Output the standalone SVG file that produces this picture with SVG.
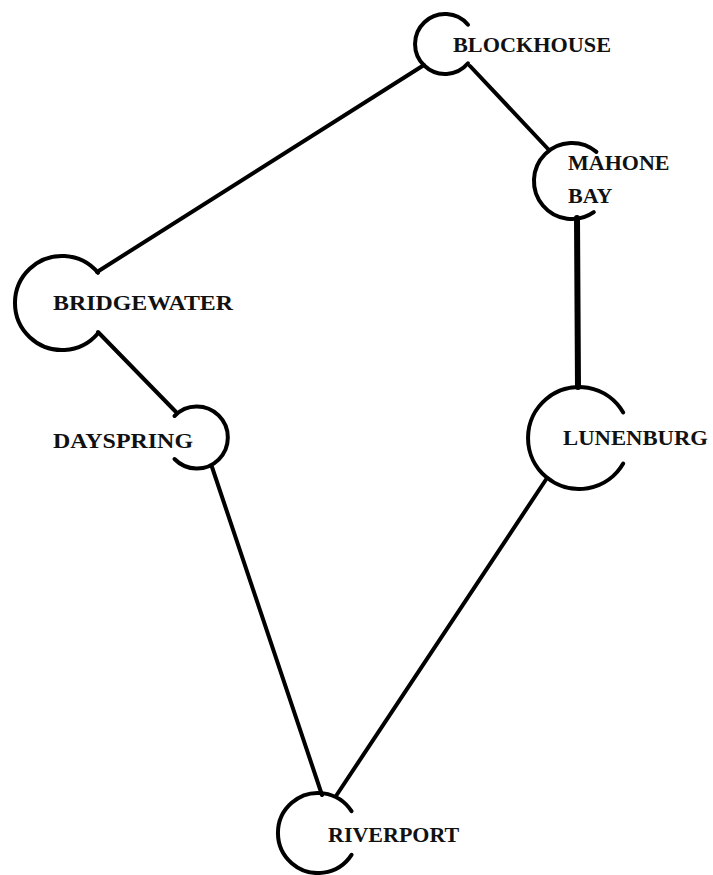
<svg xmlns="http://www.w3.org/2000/svg" width="713" height="875" viewBox="0 0 713 875">
  <style>
    .ring { fill: none; stroke: #000; stroke-width: 4; stroke-linecap: round; }
    .edge { stroke: #000; stroke-width: 4; stroke-linecap: round; }
    .edge.heavy { stroke-width: 6; }
    .label { font-family: "Liberation Serif", "Times New Roman", serif; font-weight: bold; font-size: 22px; fill: #111; }
  </style>
  <rect width="713" height="875" fill="#fff"/>

  <!-- routes between towns -->
  <g id="connectors">
    <line class="edge" x1="424" y1="65" x2="97" y2="272"/>
    <line class="edge" x1="470" y1="66" x2="549" y2="150"/>
    <line class="edge heavy" x1="577" y1="218" x2="578" y2="387"/>
    <line class="edge" x1="98" y1="332" x2="176" y2="412"/>
    <line class="edge" x1="212" y1="467" x2="322" y2="795"/>
    <line class="edge" x1="547" y1="478" x2="336" y2="796"/>
  </g>

  <!-- towns: open rings with the name set inside the gap -->
  <g id="blockhouse">
    <path class="ring" d="M468,24.7 A30,30 0 1 0 468,63.3"/>
    <text class="label" x="453" y="52" textLength="158" lengthAdjust="spacingAndGlyphs">BLOCKHOUSE</text>
  </g>

  <g id="mahone-bay">
    <path class="ring" d="M596.4,151.9 A38,38 0 1 0 593.8,212.1"/>
    <text class="label" x="568" y="170">MAHONE</text>
    <text class="label" x="568" y="203">BAY</text>
  </g>

  <g id="bridgewater">
    <path class="ring" d="M98,272.8 A47,47 0 1 0 98,333.2"/>
    <text class="label" x="53" y="310" textLength="180" lengthAdjust="spacingAndGlyphs">BRIDGEWATER</text>
  </g>

  <g id="dayspring">
    <path class="ring" d="M174.5,416 A31,31 0 1 1 174.5,459"/>
    <text class="label" x="53" y="448" textLength="140" lengthAdjust="spacingAndGlyphs">DAYSPRING</text>
  </g>

  <g id="lunenburg">
    <path class="ring" d="M623.2,412.5 A51,51 0 1 0 623.2,463.5"/>
    <text class="label" x="563" y="445" textLength="145" lengthAdjust="spacingAndGlyphs">LUNENBURG</text>
  </g>

  <g id="riverport">
    <path class="ring" d="M351.5,811.2 A40,40 0 1 0 351.5,854.8"/>
    <text class="label" x="328" y="842">RIVERPORT</text>
  </g>
</svg>
